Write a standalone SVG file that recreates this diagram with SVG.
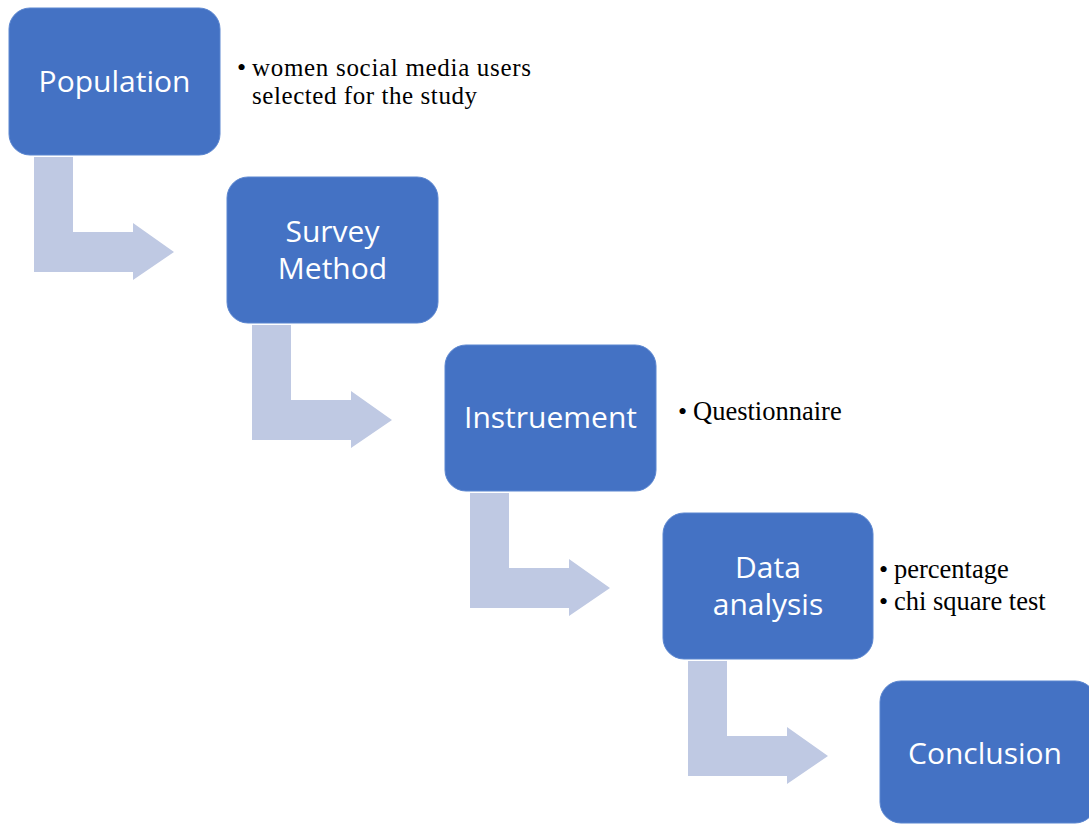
<svg xmlns="http://www.w3.org/2000/svg" width="1089" height="825" viewBox="0 0 1089 825">
<defs>
<style>
.box{fill:#4472C4;stroke:#5B86D0;stroke-width:1}
.lbl{fill:#FFFFFF;font-family:"Open Sans","Noto Sans",sans-serif;font-size:30px;text-anchor:middle}
.note{fill:#000000;font-family:"Liberation Serif","Times New Roman",serif;font-size:26.5px}
.bul{font-size:26px}
.sm{font-size:25px}
.arr{fill:#BFC9E3}
</style>
<path id="bent" d="M34,157 L73,157 L73,232 L133,232 L133,223 L174,252 L133,280 L133,272 L34,272 Z"/>
</defs>
<rect width="1089" height="825" fill="#FFFFFF"/>
<g id="connectors" class="arr">
<use href="#bent"/>
<use href="#bent" transform="translate(218,168)"/>
<use href="#bent" transform="translate(436,336)"/>
<use href="#bent" transform="translate(654,504)"/>
</g>
<g id="population">
<rect class="box" x="9" y="8" width="211" height="147" rx="21"/>
<text class="lbl" x="114.5" y="92">Population</text>
</g>
<g id="survey-method">
<rect class="box" x="227" y="177" width="211" height="146" rx="21"/>
<text class="lbl"><tspan x="332.5" y="242">Survey</tspan><tspan x="332.5" y="279">Method</tspan></text>
</g>
<g id="instruement">
<rect class="box" x="445" y="345" width="211" height="146" rx="21"/>
<text class="lbl" x="550.5" y="428">Instruement</text>
</g>
<g id="data-analysis">
<rect class="box" x="663" y="513" width="210" height="146" rx="21"/>
<text class="lbl"><tspan x="768" y="578">Data</tspan><tspan x="768" y="615">analysis</tspan></text>
</g>
<g id="conclusion">
<rect class="box" x="880" y="681" width="216" height="142" rx="21"/>
<text class="lbl" x="985" y="764">Conclusion</text>
</g>
<g id="notes" class="note">
<text class="bul" x="237" y="76">•</text>
<text class="sm" x="252" y="76" textLength="279" lengthAdjust="spacing">women social media users</text>
<text class="sm" x="252" y="104" textLength="225" lengthAdjust="spacing">selected for the study</text>
<text><tspan class="bul" x="678" y="420">•</tspan><tspan x="693" y="420">Questionnaire</tspan></text>
<text><tspan class="bul" x="879" y="578">•</tspan><tspan x="894" y="578">percentage</tspan><tspan class="bul" x="879" y="610">•</tspan><tspan x="894" y="610">chi square test</tspan></text>
</g>
</svg>
